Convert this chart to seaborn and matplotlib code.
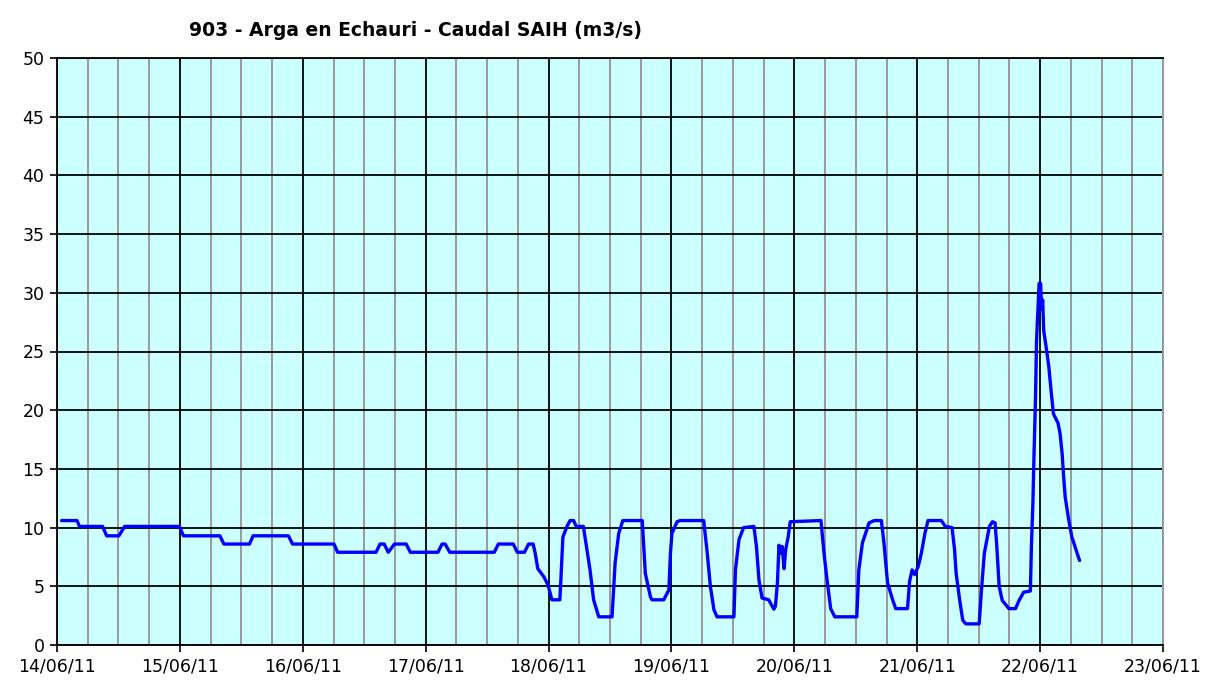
import numpy as np
import pandas as pd
import matplotlib
matplotlib.use("Agg")
import matplotlib.pyplot as plt
import matplotlib.dates as mdates
import seaborn as sns

title = "903 - Arga en Echauri - Caudal SAIH (m3/s)"
start_date = "2011-06-14 00:00"
end_date = "2011-06-23 00:00"

# hours since 14/06/11 00:00
hours = [
    0.9, 3.9, 4.4, 8.9, 9.7, 12.1, 13.2, 23.9, 24.7, 31.8, 32.6, 37.6, 38.3,
    45.2, 46.0, 54.1, 54.8, 62.3, 63.1, 63.9, 64.7, 65.9, 68.2, 69.0, 74.4,
    75.2, 75.8, 76.7, 85.4, 86.2, 89.1, 89.9, 91.3, 92.1, 93.0, 93.4, 93.9,
    95.1, 95.9, 96.65, 98.2,
    98.4, 98.8, 99.6, 100.2, 100.9, 101.4, 102.8, 103.5, 104.1, 104.8, 105.8,
    108.4, 108.7, 109.0, 109.7, 110.5, 114.3, 114.9, 115.9, 116.2, 118.5,
    119.5, 119.8, 120.1, 121.1, 121.7, 126.3, 127.0, 127.6, 128.3, 128.9,
    132.2, 132.5, 133.2, 134.1, 136.1, 136.6, 137.1, 137.7, 139.0, 140.0,
    140.3, 140.7, 141.0, 141.4, 141.6, 142.0, 142.3, 142.8, 143.2, 149.2,
    149.8, 150.4, 151.1, 151.9, 156.2, 156.6, 157.3, 158.6, 159.6, 161.0,
    161.5, 162.2, 163.2, 163.8, 166.1,
    166.5, 167.0, 167.5, 168.2, 168.8, 169.5, 170.1, 172.7, 173.5, 174.8,
    175.3, 175.6, 176.3, 176.9, 177.5, 180.1, 180.5, 181.1, 182.1, 182.7,
    183.2, 183.5, 184.0, 184.6, 185.9, 187.2, 187.9, 188.8, 190.1, 190.3,
    190.6, 190.8, 191.1, 191.3, 191.8, 192.1, 192.3, 192.5, 192.7, 193.2,
    193.7, 194.2, 194.6, 195.5, 195.9, 196.3, 196.6, 196.9, 197.5, 198.2,
    198.8, 199.7,
]
caudal = [
    10.6, 10.6, 10.1, 10.1, 9.3, 9.3, 10.1, 10.1, 9.3, 9.3, 8.6, 8.6, 9.3,
    9.3, 8.6, 8.6, 7.9, 7.9, 8.6, 8.6, 7.9, 8.6, 8.6, 7.9, 7.9,
    8.6, 8.6, 7.9, 7.9, 8.6, 8.6, 7.9, 7.9, 8.6, 8.6, 7.8, 6.5,
    5.8, 5.1, 3.85, 3.85,
    5.5, 9.2, 10.1, 10.6, 10.6, 10.1, 10.1, 8.1, 6.4, 3.85, 2.4,
    2.4, 4.7, 7.0, 9.5, 10.6, 10.6, 6.1, 4.1, 3.85, 3.85,
    4.7, 7.8, 9.5, 10.5, 10.6, 10.6, 7.8, 5.0, 3.0, 2.4,
    2.4, 6.4, 9.0, 10.0, 10.1, 8.4, 5.5, 4.0, 3.85, 3.05,
    3.3, 5.3, 8.5, 7.8, 8.4, 6.5, 8.1, 9.2, 10.5, 10.6,
    7.8, 5.5, 3.1, 2.4, 2.4, 6.4, 8.7, 10.4, 10.6, 10.6,
    8.7, 5.3, 3.85, 3.1, 3.1,
    5.4, 6.4, 6.0, 6.7, 7.8, 9.5, 10.6, 10.6, 10.1, 10.0,
    8.1, 6.1, 3.8, 2.1, 1.8, 1.8, 4.4, 7.8, 10.1, 10.5,
    10.4, 8.7, 5.0, 3.8, 3.1, 3.1, 3.8, 4.5, 4.6, 8.4,
    12.2, 16.05, 21.0, 25.9, 30.8, 30.8, 28.6, 29.4, 26.8, 25.3,
    23.7, 21.4, 19.7, 18.9, 18.0, 16.3, 14.3, 12.6, 10.9, 9.2,
    8.4, 7.2,
]

t0 = pd.Timestamp(start_date)
df = pd.DataFrame({
    "fecha": [t0 + pd.Timedelta(hours=h) for h in hours],
    "caudal": caudal,
})

sns.set_theme(style="white")
plt.rcParams["font.family"] = ["DejaVu Sans"]

fig = plt.figure(figsize=(12.08, 6.8), dpi=100)
ax = fig.add_axes([57 / 1208, 1 - 645 / 680, (1163 - 57) / 1208, (645 - 58) / 680])
ax.set_facecolor("#CCFFFF")

sns.lineplot(data=df, x="fecha", y="caudal", ax=ax, color="#0000FF",
             linewidth=2.4, zorder=5)

ax.set_xlim(pd.Timestamp(start_date), pd.Timestamp(end_date))
ax.set_ylim(0, 50)
ax.set_yticks(np.arange(0, 51, 5))

ax.xaxis.set_major_locator(mdates.DayLocator())
ax.xaxis.set_major_formatter(mdates.DateFormatter("%d/%m/%y"))
ax.xaxis.set_minor_locator(mdates.HourLocator(byhour=[6, 12, 18]))

ax.grid(False)
ax.grid(which="minor", axis="x", color="#999999", linewidth=1.4, zorder=1)
ax.grid(which="major", axis="x", color="black", linewidth=1.3, zorder=2)
ax.grid(which="major", axis="y", color="black", linewidth=1.3, zorder=2)
ax.set_axisbelow(True)

ax.tick_params(axis="both", which="major", direction="out", length=5,
               width=1.2, color="black", labelsize=12.5, labelcolor="black")
ax.tick_params(axis="x", which="major", pad=4)
ax.tick_params(axis="y", which="major", pad=4, left=True)
ax.tick_params(axis="x", which="minor", length=0)
ax.tick_params(axis="x", bottom=True)

for side in ["left", "bottom", "top"]:
    ax.spines[side].set_color("black")
    ax.spines[side].set_linewidth(1.3)
ax.spines["right"].set_color("#999999")
ax.spines["right"].set_linewidth(1.4)

ax.set_xlabel("")
ax.set_ylabel("")

fig.text(415.5 / 1208, 1 - 31 / 680, title, ha="center", va="center",
         fontsize=13.5, fontweight="bold", color="black")

fig.savefig("out.png", dpi=100, facecolor="white")
